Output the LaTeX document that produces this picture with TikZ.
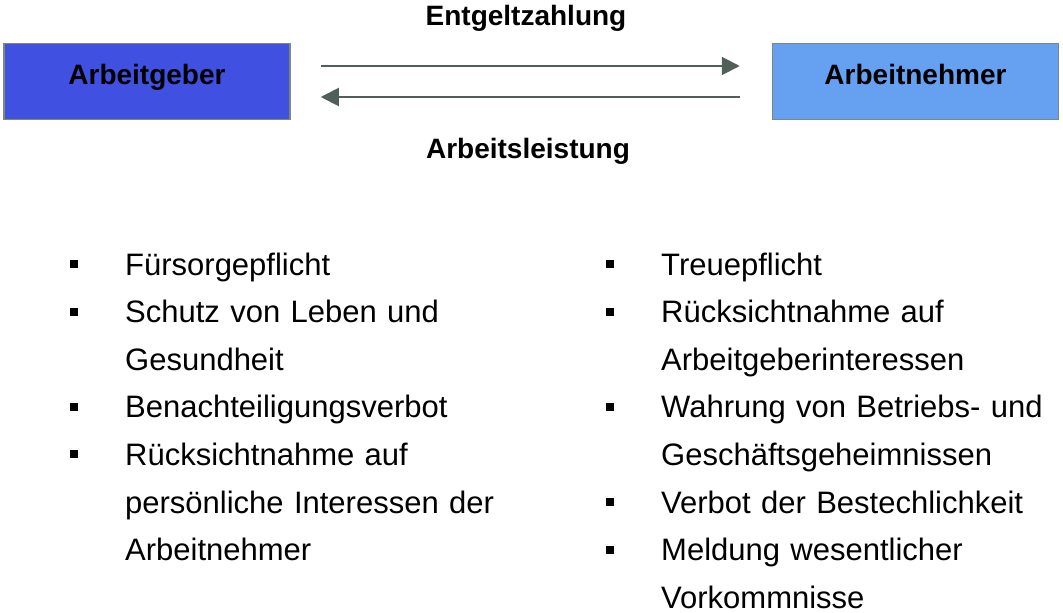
\documentclass[tikz,border=0pt]{standalone}
\usepackage{fontspec}
\setmainfont{Liberation Sans}
\usetikzlibrary{arrows.meta}
\definecolor{agblau}{RGB}{64,80,224}
\definecolor{anblau}{RGB}{102,160,240}
\definecolor{rahmen}{RGB}{128,136,120}
\definecolor{pfeilgrau}{RGB}{80,96,88}
\begin{document}
\begin{tikzpicture}[x=1pt,y=-1pt,
	partei/.style={draw=rahmen,line width=1.5pt,minimum width=286pt,inner sep=0pt,
		text height=41pt,text depth=35pt,font=\fontsize{28}{34}\selectfont\bfseries},
	leistung/.style={anchor=base,font=\fontsize{28}{34}\selectfont\bfseries},
	pfeil/.style={draw=pfeilgrau,line width=2pt,-{Triangle[length=18pt,width=18pt]}},
	punkt/.style={fill=black,minimum size=8pt,inner sep=0pt},
	eintrag/.style={anchor=base west,inner sep=0pt,text width=420pt,align=left,
		font=\fontsize{31}{47.6}\selectfont}]
	\useasboundingbox (0,0) rectangle (1063,613);
	% Vertragsparteien
	\node (AG) at (147, 81.5)	[partei, fill = agblau]	{Arbeitgeber};
	\node (AN) at (915.5, 81.5)	[partei, fill = anblau]	{Arbeitnehmer};
	\draw[pfeil, shorten <=30pt, shorten >=32pt] ([yshift=15.5pt]AG.east) -- ([yshift=15.5pt]AN.west);
	\draw[pfeil, shorten <=32pt, shorten >=30pt] ([yshift=-15.5pt]AN.west) -- ([yshift=-15.5pt]AG.east);
	\node (EZ) at (526, 25)	[leistung]	{Entgeltzahlung};
	\node (AL) at (528, 158)	[leistung]	{Arbeitsleistung};
	% Pflichten Arbeitgeber
	\node (P1) at (74, 264)	[punkt]	{};
	\node (P2) at (74, 311.6)	[punkt]	{};
	\node (P3) at (74, 406.8)	[punkt]	{};
	\node (P4) at (74, 454.4)	[punkt]	{};
	\node (E1) at (125, 275)	[eintrag]	{Fürsorgepflicht};
	\node (E2) at (125, 322.6)	[eintrag]	{Schutz von Leben und\\Gesundheit};
	\node (E3) at (125, 417.8)	[eintrag]	{Benachteiligungsverbot};
	\node (E4) at (125, 465.4)	[eintrag]	{Rücksichtnahme auf\\persönliche Interessen der\\Arbeitnehmer};
	% Pflichten Arbeitnehmer
	\node (Q1) at (610, 264)	[punkt]	{};
	\node (Q2) at (610, 311.6)	[punkt]	{};
	\node (Q3) at (610, 406.8)	[punkt]	{};
	\node (Q4) at (610, 502)	[punkt]	{};
	\node (Q5) at (610, 549.6)	[punkt]	{};
	\node (F1) at (661, 275)	[eintrag]	{Treuepflicht};
	\node (F2) at (661, 322.6)	[eintrag]	{Rücksichtnahme auf\\Arbeitgeberinteressen};
	\node (F3) at (661, 417.8)	[eintrag]	{Wahrung von Betriebs- und\\Geschäftsgeheimnissen};
	\node (F4) at (661, 513)	[eintrag]	{Verbot der Bestechlichkeit};
	\node (F5) at (661, 560.6)	[eintrag]	{Meldung wesentlicher\\Vorkommnisse};
\end{tikzpicture}
\end{document}
